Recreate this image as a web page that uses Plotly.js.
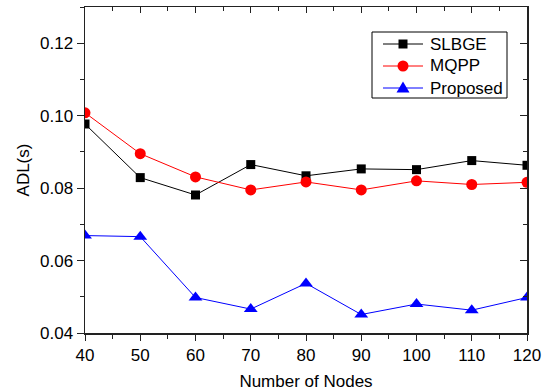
<!DOCTYPE html>
<html>
<head>
<meta charset="utf-8">
<script src="https://cdn.plot.ly/plotly-3.0.1.min.js"></script>
<style>
  html, body { margin: 0; padding: 0; background: #fff; }
  #chart { width: 550px; height: 392px; }
</style>
</head>
<body>
<div id="chart"></div>
<script>
// Average delay (s) against the number of nodes for three schemes
const nodes = [40, 50, 60, 70, 80, 90, 100, 110, 120];
const slbge = [0.0977, 0.0829, 0.0781, 0.0865, 0.0834, 0.0853, 0.0851, 0.0876, 0.0863];
const mqpp = [0.1008, 0.0895, 0.0831, 0.0795, 0.0817, 0.0795, 0.0820, 0.0810, 0.0816];
const proposed = [0.0669, 0.0666, 0.0498, 0.0466, 0.0537, 0.0451, 0.0480, 0.0463, 0.0498];

const seriesNames = ['SLBGE', 'MQPP', 'Proposed'];
const xTicks = [40, 50, 60, 70, 80, 90, 100, 110, 120];
const yTicks = [0.04, 0.06, 0.08, 0.10, 0.12];
const yTickText = ['0.04', '0.06', '0.08', '0.10', '0.12'];

const FONT = 'Arial, "Liberation Sans", sans-serif';
const AXIS_COLOR = '#222';
const W = 550, H = 392;
const M = { l: 85, r: 23, t: 7, b: 59 };
const colors = ['#000000', '#ff0000', '#0000ff'];

function series(name, y, color, symbol, size) {
  return {
    x: nodes, y: y, name: name, type: 'scatter', mode: 'lines+markers',
    line: { color: color, width: 1 },
    marker: { symbol: symbol, size: size, color: color, line: { width: 0 } },
    xaxis: 'x', yaxis: 'y', showlegend: false
  };
}

const traces = [
  series(seriesNames[0], slbge, colors[0], 'square', 9),
  series(seriesNames[1], mqpp, colors[1], 'circle', 11),
  series(seriesNames[2], proposed, colors[2], 'triangle-up', 12),
  // frame axes on top/right carry the inward ticks
  { x: [], y: [], xaxis: 'x2', yaxis: 'y2', showlegend: false, hoverinfo: 'skip' }
];

// boxed legend, laid out in pixels and converted to paper units
const plotW = W - M.l - M.r, plotH = H - M.t - M.b;
const px = v => (v - M.l) / plotW;
const py = v => (H - M.b - v) / plotH;
const box = { left: 372, right: 507, top: 32, bottom: 98 };
const rowY = [44, 66, 88];
const lineX = [383, 423];
const textX = 428;

const shapes = [{
  type: 'rect', xref: 'paper', yref: 'paper', layer: 'above',
  x0: px(box.left), x1: px(box.right), y0: py(box.bottom), y1: py(box.top),
  line: { color: '#000', width: 1 }, fillcolor: '#fff'
}];
const annotations = [];
seriesNames.forEach((name, i) => {
  const yc = py(rowY[i]);
  const xc = px((lineX[0] + lineX[1]) / 2);
  shapes.push({
    type: 'line', xref: 'paper', yref: 'paper', layer: 'above',
    x0: px(lineX[0]), x1: px(lineX[1]), y0: yc, y1: yc,
    line: { color: colors[i], width: 1 }
  });
  const pix = { xref: 'paper', yref: 'paper', layer: 'above',
    xsizemode: 'pixel', ysizemode: 'pixel', xanchor: xc, yanchor: yc,
    fillcolor: colors[i], line: { width: 0 } };
  if (i === 0) shapes.push(Object.assign({ type: 'rect', x0: -4.5, x1: 4.5, y0: -4.5, y1: 4.5 }, pix));
  if (i === 1) shapes.push(Object.assign({ type: 'circle', x0: -5.5, x1: 5.5, y0: -5.5, y1: 5.5 }, pix));
  if (i === 2) shapes.push(Object.assign({ type: 'path', path: 'M -6.5 -4.5 L 6.5 -4.5 L 0 6.5 Z' }, pix));
  annotations.push({
    xref: 'paper', yref: 'paper', x: px(textX), y: yc,
    xanchor: 'left', yanchor: 'middle', showarrow: false,
    text: name, font: { family: FONT, size: 17, color: '#000' }
  });
});

const xRange = [40, 120];
const yRange = [0.04, 0.13];

const layout = {
  width: W, height: H,
  margin: M,
  paper_bgcolor: '#fff', plot_bgcolor: '#fff',
  font: { family: FONT, size: 17, color: '#000' },
  showlegend: false,
  shapes: shapes,
  annotations: annotations,
  xaxis: {
    range: xRange, tickvals: xTicks, ticktext: xTicks.map(String),
    ticks: 'outside', ticklen: 6, tickwidth: 1, tickcolor: AXIS_COLOR,
    minor: { dtick: 5, ticks: 'outside', ticklen: 4, tickwidth: 1, tickcolor: AXIS_COLOR },
    showline: true, linecolor: AXIS_COLOR, linewidth: 1.5,
    showgrid: false, zeroline: false,
    tickfont: { family: FONT, size: 17 },
    title: { text: 'Number of Nodes', font: { family: FONT, size: 17 }, standoff: 11 }
  },
  yaxis: {
    range: yRange, tickvals: yTicks, ticktext: yTickText,
    ticks: 'outside', ticklen: 7, tickwidth: 1, tickcolor: AXIS_COLOR,
    minor: { tick0: 0.05, dtick: 0.01, ticks: 'outside', ticklen: 4, tickwidth: 1, tickcolor: AXIS_COLOR },
    showline: true, linecolor: AXIS_COLOR, linewidth: 1.5,
    showgrid: false, zeroline: false,
    tickfont: { family: FONT, size: 17 },
    title: { text: 'ADL(s)', font: { family: FONT, size: 17 }, standoff: 6 }
  },
  xaxis2: {
    overlaying: 'x', side: 'top', anchor: 'y2', range: xRange,
    tickvals: xTicks, showticklabels: false,
    ticks: 'inside', ticklen: 6, tickwidth: 1, tickcolor: AXIS_COLOR,
    minor: { dtick: 5, ticks: 'inside', ticklen: 4, tickwidth: 1, tickcolor: AXIS_COLOR },
    showline: true, linecolor: AXIS_COLOR, linewidth: 1.5,
    showgrid: false, zeroline: false
  },
  yaxis2: {
    overlaying: 'y', side: 'right', anchor: 'x2', range: yRange,
    tickvals: yTicks, showticklabels: false,
    ticks: 'inside', ticklen: 7, tickwidth: 1, tickcolor: AXIS_COLOR,
    minor: { tick0: 0.05, dtick: 0.01, ticks: 'inside', ticklen: 4, tickwidth: 1, tickcolor: AXIS_COLOR },
    showline: true, linecolor: AXIS_COLOR, linewidth: 1.5,
    showgrid: false, zeroline: false
  }
};

Plotly.newPlot('chart', traces, layout, { staticPlot: true, displayModeBar: false });
</script>
</body>
</html>
